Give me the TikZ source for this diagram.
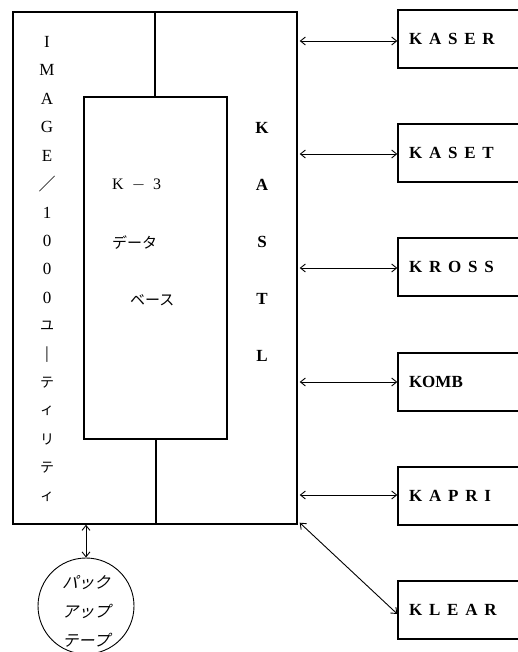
\documentclass[tikz,border=0pt]{standalone}
\usepackage{fontspec}
\setmainfont{Liberation Serif}
\newfontfamily\jp{Noto Sans CJK JP}
\newfontfamily\jpslant[FakeSlant=0.25]{Noto Sans CJK JP}
\newfontfamily\wide[LetterSpace=40]{Liberation Serif}
\usetikzlibrary{arrows.meta}
\tikzset{
  frame/.style={draw, line width=1.4pt, rectangle, inner sep=0pt},
  divider/.style={line width=1.8pt},
  modbox/.style={draw, line width=1.3pt, rectangle, minimum width=140pt, minimum height=58pt,
    inner xsep=11pt, text width=118pt, align=left, font=\fontsize{17}{19}\selectfont\bfseries},
  colchar/.style={inner sep=0pt, font=\fontsize{17}{19}\selectfont},
  jpchar/.style={inner sep=0pt, font=\jp\fontsize{15}{17}\selectfont},
  link/.style={line width=0.9pt, {Straight Barb[length=5pt,width=8pt]}-{Straight Barb[length=5pt,width=8pt]}},
}
\begin{document}
\begin{tikzpicture}[x=1pt,y=-1pt]
\useasboundingbox (0,0) rectangle (518,652);

% system frame and the data base inside it
\node[frame, minimum width=284pt, minimum height=512pt] (main) at (155,268) {};
\node[frame, minimum width=143pt, minimum height=342pt] (db) at (155.5,268) {};
\draw[divider] ([xshift=-0.5pt]db.north) -- ([xshift=-0.5pt]db.north |- main.north);
\draw[divider] ([xshift=0.5pt]db.south) -- ([xshift=0.5pt]db.south |- main.south);

% utility column
\foreach \c [count=\i from 0] in {I,M,A,G,E}
  \node[colchar] (util\i) at (47,42+28.4*\i) {\c};
\node[jpchar, font=\jp\fontsize{17}{19}\selectfont] (util5) at (47,42+28.4*5) {／};
\foreach \c [count=\i from 6] in {1,0,0,0}
  \node[colchar] (util\i) at (47,42+28.4*\i) {\c};
\foreach \c [count=\i from 10] in {ユ,|,テ,ィ,リ,テ,ィ}
  \node[jpchar, font=\jp\fontsize{14}{16}\selectfont] (util\i) at (47,42+28.4*\i)
    {\ifx\c|\rule{1pt}{12pt}\else\c\fi};

% KASTL column
\foreach \c [count=\i from 0] in {K,A,S,T,L}
  \node[colchar, font=\fontsize{17}{19}\selectfont\bfseries] (kastl\i) at (262,128+57*\i) {\c};

% data base label
\node[inner sep=0pt, anchor=west, font=\fontsize{16}{18}\selectfont] (k3) at (112,185) {K\enspace$-$\enspace3};
\node[jpchar, anchor=west] (data) at (112,243) {データ};
\node[jpchar, anchor=west] (base) at (130,300) {ベース};

% modules
\node[modbox] (kaser) at (468,39)  {{\wide KASER}};
\node[modbox] (kaset) at (468,153) {{\wide KASET}};
\node[modbox] (kross) at (468,267) {{\wide KROSS}};
\node[modbox] (komb)  at (468,382) {KOMB};
\node[modbox] (kapri) at (468,496) {{\wide KAPRI}};
\node[modbox] (klear) at (468,610) {{\wide KLEAR}};

\foreach \m/\y in {kaser/41,kaset/154,kross/268,komb/382,kapri/495}
  \draw[link] ([xshift=2pt]main.east |- 0,\y) -- (\m.west |- 0,\y);
\draw[link] ([shift={(2pt,2pt)}]main.south east) -- ([yshift=-4pt]klear.west);

% backup tape
\node[draw, line width=0.9pt, circle, minimum size=96pt, inner sep=0pt] (tape) at (86,606) {};
\node[inner sep=0pt, align=center, font=\jpslant\fontsize{16}{29}\selectfont] (tapetext) at (86,611)
  {パック\\アップ\\テープ};
\draw[link] (tape.north) -- (tape.north |- main.south);
\end{tikzpicture}
\end{document}
